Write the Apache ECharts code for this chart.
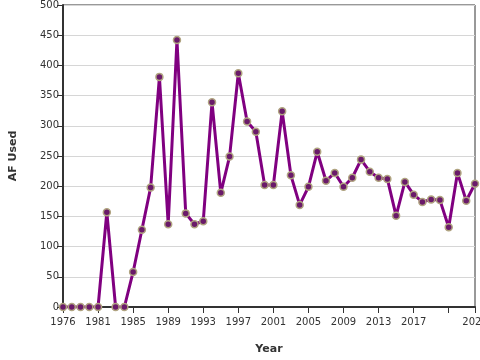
<!DOCTYPE html>
<html>
<head>
<meta charset="utf-8">
<script src="https://cdn.jsdelivr.net/npm/echarts@6/dist/echarts.min.js"></script>
<style>
  html, body { margin: 0; padding: 0; background: #fff; }
  #chart { width: 480px; height: 360px; }
</style>
</head>
<body>
<div id="chart"></div>
<script>
// years on the axis (1977 is not in the record)
const years = [1976, 1978, 1979, 1980, 1981, 1982, 1983, 1984, 1985, 1986, 1987, 1988,
  1989, 1990, 1991, 1992, 1993, 1994, 1995, 1996, 1997, 1998, 1999, 2000,
  2001, 2002, 2003, 2004, 2005, 2006, 2007, 2008, 2009, 2010, 2011, 2012,
  2013, 2014, 2015, 2016, 2017, 2018, 2019, 2020, 2021, 2022, 2023, 2024];

const afUsed = [0, 0, 0, 0, 0, 157, 0, 0, 58, 128, 198, 381,
  137, 442, 155, 137, 142, 339, 189, 249, 387, 307, 290, 202,
  202, 324, 218, 169, 199, 257, 209, 222, 199, 214, 244, 224,
  214, 212, 151, 207, 186, 174, 178, 177, 132, 222, 176, 204];

// which category positions get a tick / a label
const tickIdx = (i) => i % 4 === 0 || i === years.length - 1;
const labelIdx = (i) => (i % 4 === 0 && i !== 44) || i === years.length - 1;

const chart = echarts.init(document.getElementById('chart'));

chart.setOption({
  animation: false,
  textStyle: { fontFamily: 'DejaVu Sans' },
  grid: {
    left: 63,
    right: 5,
    top: 5,
    bottom: 53,
    outerBoundsMode: 'none',
    containLabel: false,
    show: true,
    borderColor: '#333',
    borderWidth: 1
  },
  xAxis: {
    type: 'category',
    data: years.map(String),
    boundaryGap: false,
    name: 'Year',
    nameLocation: 'middle',
    nameGap: 37,
    nameTextStyle: { fontSize: 11, fontWeight: 'bold', color: '#333' },
    axisLine: { lineStyle: { color: '#333', width: 2 } },
    axisTick: { interval: tickIdx, length: 6, lineStyle: { color: '#333' } },
    axisLabel: { interval: labelIdx, margin: 10, fontSize: 10, color: '#333' },
    splitLine: { show: false }
  },
  yAxis: {
    type: 'value',
    min: 0,
    max: 500,
    interval: 50,
    name: 'AF Used',
    nameLocation: 'middle',
    nameGap: 44,
    nameTextStyle: { fontSize: 11, fontWeight: 'bold', color: '#333' },
    axisLine: { show: true, lineStyle: { color: '#333', width: 2 } },
    axisTick: { show: true, length: 6, lineStyle: { color: '#333' } },
    axisLabel: { margin: 4, fontSize: 10, color: '#333' },
    splitLine: { lineStyle: { color: '#d6d6d6' } }
  },
  series: [
    {
      name: 'AF Used',
      type: 'line',
      data: afUsed,
      symbol: 'circle',
      symbolSize: 7,
      showAllSymbol: true,
      lineStyle: { color: '#800080', width: 3 },
      itemStyle: { color: '#6a1a6a', borderColor: '#b0a480', borderWidth: 1.5 }
    }
  ]
});
</script>
</body>
</html>
